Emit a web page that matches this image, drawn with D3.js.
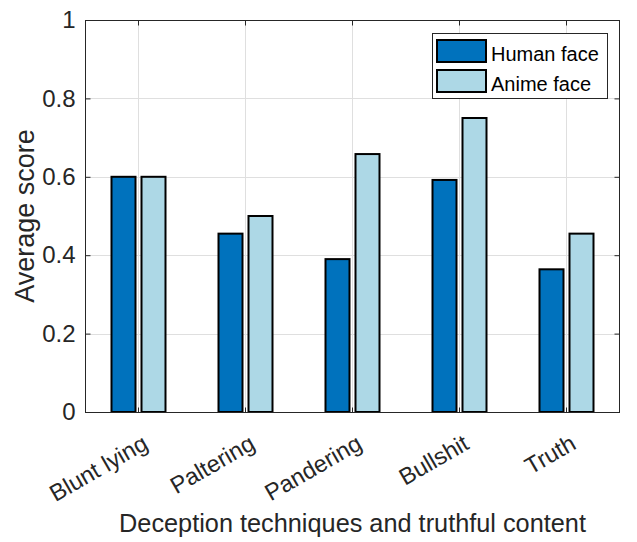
<!DOCTYPE html>
<html>
<head>
<meta charset="utf-8">
<script src="https://cdn.jsdelivr.net/npm/d3@7"></script>
<style>
  body { margin: 0; background: #fff; }
  svg { display: block; font-family: "Liberation Sans", Arial, sans-serif; }
</style>
</head>
<body>
<svg></svg>
<script>
const width = 637;
const height = 542;
const margin = { left: 85, right: 17, top: 20, bottom: 130 };

// data
const categories = ["Blunt lying", "Paltering", "Pandering", "Bullshit", "Truth"];
const series_names = ["Human face", "Anime face"];
const human_face = [0.600, 0.455, 0.390, 0.592, 0.364];
const anime_face = [0.600, 0.500, 0.658, 0.750, 0.455];
const y_ticks = [0, 0.2, 0.4, 0.6, 0.8, 1];

const colors = ["#0072BD", "#ADD8E6"];
const axis_color = "#262626";

const svg = d3.select("svg").attr("width", width).attr("height", height);

const x_scale = d3.scaleBand()
  .domain(categories)
  .range([margin.left, width - margin.right])
  .paddingInner(0).paddingOuter(0);
const x_center = (c) => x_scale(c) + x_scale.bandwidth() / 2;

const y_scale = d3.scaleLinear().domain([0, 1]).range([height - margin.bottom, margin.top]);

const x0 = margin.left, x1 = width - margin.right;
const y0 = height - margin.bottom, y1 = margin.top;

// grid
svg.append("g").selectAll("line").data(categories).join("line")
  .attr("x1", x_center).attr("x2", x_center)
  .attr("y1", y0).attr("y2", y1)
  .attr("stroke", "#dfdfdf").attr("stroke-width", 1);
svg.append("g").selectAll("line").data(y_ticks).join("line")
  .attr("x1", x0).attr("x2", x1)
  .attr("y1", (d) => Math.round(y_scale(d)) + 0.5).attr("y2", (d) => Math.round(y_scale(d)) + 0.5)
  .attr("stroke", "#dfdfdf").attr("stroke-width", 1);

// bars
const bar_w = 24;
const bar_off = 15;
const table = categories.map((c, i) => ({ c, vals: [human_face[i], anime_face[i]] }));
const groups = svg.append("g").selectAll("g").data(table).join("g");
groups.selectAll("rect")
  .data((d) => d.vals.map((v, j) => ({ c: d.c, v, j })))
  .join("rect")
  .attr("x", (d) => x_center(d.c) + (d.j === 0 ? -bar_off : bar_off) - bar_w / 2)
  .attr("y", (d) => y_scale(d.v))
  .attr("width", bar_w)
  .attr("height", (d) => y0 - y_scale(d.v))
  .attr("fill", (d) => colors[d.j])
  .attr("stroke", "#000")
  .attr("stroke-width", 2);

// axes (box with inward ticks)
const y_axis = d3.axisLeft(y_scale).tickValues(y_ticks).tickSize(-5).tickPadding(10)
  .tickFormat((d) => d3.format("~g")(d));
const y_axis_r = d3.axisRight(y_scale).tickValues(y_ticks).tickSize(-5).tickFormat("");
const x_axis = d3.axisBottom(x_scale).tickSize(-5).tickFormat("");
const x_axis_t = d3.axisTop(x_scale).tickSize(-5).tickFormat("");

const gy = svg.append("g").attr("transform", `translate(${x0 + 0.5},0)`).call(y_axis);
svg.append("g").attr("transform", `translate(${x1 - 0.5},0)`).call(y_axis_r);
svg.append("g").attr("transform", `translate(0,${y0 + 0.5})`).call(x_axis);
svg.append("g").attr("transform", `translate(0,${y1 + 0.5})`).call(x_axis_t);

svg.selectAll(".domain").attr("stroke", axis_color).attr("d", null);
svg.selectAll(".tick line").attr("stroke", axis_color);
gy.selectAll(".tick text")
  .style("font-size", "24px")
  .attr("fill", axis_color);

// box frame
svg.append("rect")
  .attr("x", x0 + 0.5).attr("y", y1 + 0.5)
  .attr("width", x1 - x0 - 1).attr("height", y0 - y1)
  .attr("fill", "none").attr("stroke", axis_color).attr("stroke-width", 1);

// rotated category labels
svg.append("g").selectAll("text").data(categories).join("text")
  .attr("transform", (d) => `translate(${x_center(d) + 11},${y0 + 36}) rotate(-30)`)
  .attr("text-anchor", "end")
  .attr("fill", axis_color)
  .style("font-size", "23.5px")
  .text((d) => d);

// axis labels
svg.append("text")
  .attr("transform", `translate(34,${(y0 + y1) / 2}) rotate(-90)`)
  .attr("text-anchor", "middle")
  .attr("fill", axis_color)
  .style("font-size", "27px")
  .text("Average score");

svg.append("text")
  .attr("x", (x0 + x1) / 2)
  .attr("y", 532)
  .attr("text-anchor", "middle")
  .attr("fill", axis_color)
  .style("font-size", "25.3px")
  .text("Deception techniques and truthful content");

// legend
const legend = svg.append("g").attr("transform", "translate(432,33)");
legend.append("rect")
  .attr("x", 0.5).attr("y", 0.5).attr("width", 175).attr("height", 65)
  .attr("fill", "#fff").attr("stroke", axis_color);
const items = legend.selectAll("g").data(series_names).join("g")
  .attr("transform", (d, i) => `translate(5,${7 + i * 30})`);
items.append("rect")
  .attr("width", 49).attr("height", 22)
  .attr("fill", (d, i) => colors[i])
  .attr("stroke", "#000").attr("stroke-width", 2);
items.append("text")
  .attr("x", 54).attr("y", 20.5)
  .attr("fill", "#000")
  .style("font-size", "20px")
  .text((d) => d);
</script>
</body>
</html>
